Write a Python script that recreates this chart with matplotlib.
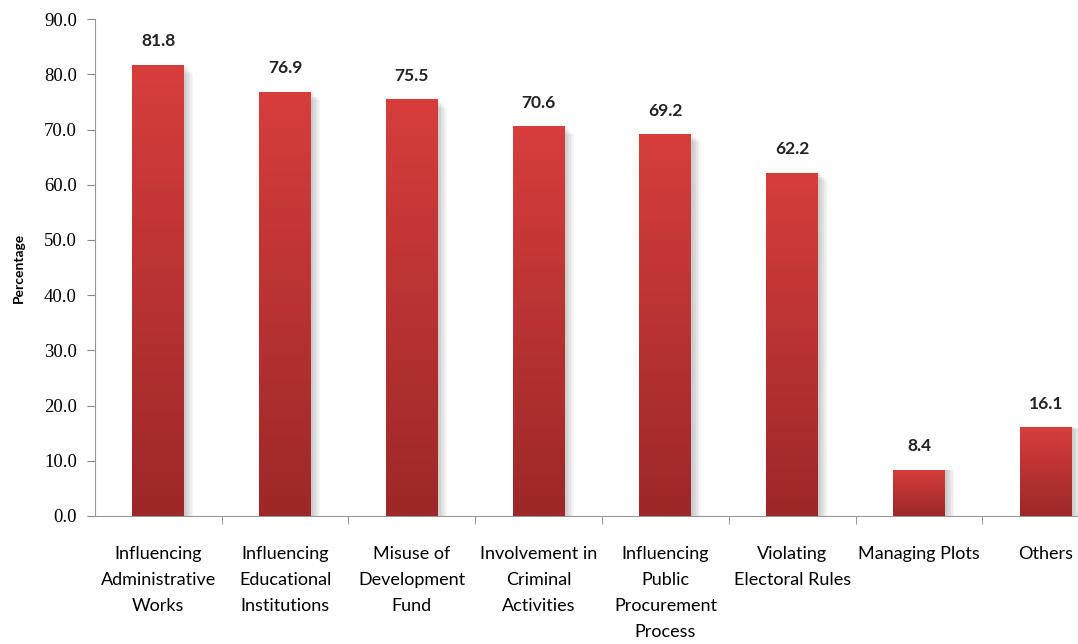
import numpy as np
import matplotlib.pyplot as plt
from matplotlib.colors import LinearSegmentedColormap

# data
categories = ['Influencing\nAdministrative\nWorks', 'Influencing\nEducational\nInstitutions',
              'Misuse of\nDevelopment\nFund', 'Involvement in\nCriminal\nActivities',
              'Influencing\nPublic\nProcurement\nProcess', 'Violating\nElectoral Rules',
              'Managing Plots', 'Others']
values = [81.8, 76.9, 75.5, 70.6, 69.2, 62.2, 8.4, 16.1]
yticks = np.arange(0, 91, 10)

fig = plt.figure(figsize=(10.78, 6.44), dpi=100)
ax = fig.add_axes([0.088, 0.199, 0.941, 0.771])

x = np.arange(len(values))
bars = ax.bar(x, values, width=0.41, color='#C83535', zorder=3)

# gradient + shadow on each bar
cmap = LinearSegmentedColormap.from_list('red', ['#9C2828', '#D63E3C'])
grad = np.linspace(0, 1, 256).reshape(-1, 1)
for b in bars:
    x0, w, h = b.get_x(), b.get_width(), b.get_height()
    for k in range(6):
        ax.add_patch(plt.Rectangle((x0 + w, 0), 0.012 * (k + 1), h * (1 - 0.004 * k),
                                   color='#000000', alpha=0.035, lw=0, zorder=2))
    im = ax.imshow(grad, cmap=cmap, aspect='auto', extent=[x0, x0 + w, 0, h],
                   origin='lower', zorder=3)
    im.set_clip_path(b)
    ax.text(x0 + w / 2, h + 2.8, f'{h:.1f}', ha='center', va='bottom',
            fontsize=12.5, fontweight='bold', family='Lato', color='#222222')

ax.set_xlim(-0.5, len(values) - 0.5)
ax.set_ylim(0, 90)
ax.set_yticks(yticks)
ax.set_yticklabels([f'{v:.1f}' for v in yticks], family='Liberation Serif', fontsize=13.5)
ax.set_xticks(x)
ax.set_xticklabels(categories, family='Lato', fontsize=13, linespacing=1.75)
ax.tick_params(axis='x', length=0, pad=22)
ax.set_xticks(np.arange(0.5, len(values) - 0.5), minor=True)
ax.tick_params(axis='x', which='minor', length=6, color='#888888')
ax.tick_params(axis='y', length=6, color='#888888', pad=7)
for s in ['top', 'right']:
    ax.spines[s].set_visible(False)
for s in ['left', 'bottom']:
    ax.spines[s].set_color('#999999')
ax.set_ylabel('Percentage', fontsize=10, fontweight='bold', family='Lato', labelpad=14)

plt.savefig('out.png', dpi=100)
